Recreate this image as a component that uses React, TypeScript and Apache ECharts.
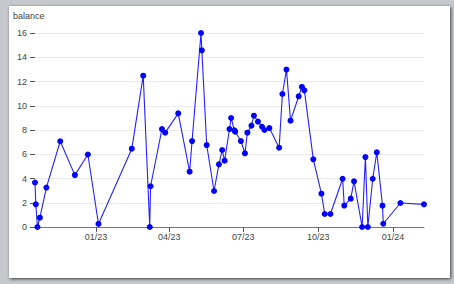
import React, { useEffect, useRef } from "react";
import * as echarts from "echarts";

const dates: string[] = [
  "2022-10-18", "2022-10-19", "2022-10-21", "2022-10-24", "2022-11-01", "2022-11-18",
  "2022-12-06", "2022-12-22", "2023-01-04", "2023-02-14", "2023-02-28", "2023-03-08",
  "2023-03-09", "2023-03-23", "2023-03-27", "2023-04-12", "2023-04-26", "2023-04-29",
  "2023-05-10", "2023-05-11", "2023-05-17", "2023-05-26", "2023-06-01", "2023-06-05",
  "2023-06-08", "2023-06-14", "2023-06-16", "2023-06-20", "2023-06-21", "2023-06-28",
  "2023-07-03", "2023-07-06", "2023-07-11", "2023-07-14", "2023-07-19", "2023-07-24",
  "2023-07-27", "2023-08-02", "2023-08-14", "2023-08-18", "2023-08-23", "2023-08-28",
  "2023-09-07", "2023-09-11", "2023-09-14", "2023-09-25", "2023-10-05", "2023-10-09",
  "2023-10-16", "2023-10-31", "2023-11-02", "2023-11-10", "2023-11-14", "2023-11-24",
  "2023-11-28", "2023-12-01", "2023-12-07", "2023-12-12", "2023-12-19", "2023-12-20",
  "2024-01-10", "2024-02-08",
];

const balances: number[] = [
  3.67, 1.87, 0, 0.77, 3.25, 7.07,
  4.28, 5.98, 0.25, 6.46, 12.48, 0,
  3.36, 8.08, 7.78, 9.37, 4.56, 7.09,
  16.0, 14.57, 6.76, 2.97, 5.17, 6.35,
  5.47, 8.08, 8.99, 7.97, 7.86, 7.09,
  6.08, 7.78, 8.36, 9.18, 8.69, 8.27,
  8.0, 8.16, 6.54, 10.97, 12.98, 8.77,
  10.78, 11.55, 11.27, 5.58, 2.75, 1.07,
  1.07, 3.98, 1.77, 2.34, 3.77, 0,
  5.77, 0, 3.98, 6.16, 1.76, 0.27,
  1.98, 1.87,
];

const tickDates: string[] = ["2023-01-01", "2023-04-01", "2023-07-01", "2023-10-01", "2024-01-01"];

const yTicks = { min: 0, max: 16, interval: 2 };

function parseLocal(s: string): number {
  const [y, m, d] = s.split("-").map(Number);
  return new Date(y, m - 1, d).getTime();
}

const FONT = "'Liberation Sans', Arial, sans-serif";

export default function App() {
  const ref = useRef<HTMLDivElement>(null);

  useEffect(() => {
    if (!ref.current) return;
    const chart = echarts.init(ref.current, undefined, { renderer: "svg" });
    const xs = dates.map(parseLocal);
    const seriesData = xs.map((x, i) => [x, balances[i]]);
    const tickValues = tickDates.map(parseLocal);
    chart.setOption({
      animation: false,
      title: {
        text: "balance",
        left: 4,
        top: 5,
        padding: 0,
        textStyle: { fontFamily: FONT, fontSize: 9, fontWeight: "normal", color: "#444" },
      },
      grid: { left: 26, right: 26, top: 27, bottom: 51, containLabel: false },
      xAxis: {
        type: "value",
        min: xs[0],
        max: xs[xs.length - 1],
        axisLine: { show: true, onZero: false, lineStyle: { color: "#777", width: 1 } },
        axisTick: { show: true, length: 5, lineStyle: { color: "#555" }, customValues: tickValues },
        axisLabel: {
          customValues: tickValues,
          margin: 5,
          fontFamily: FONT,
          fontSize: 9,
          color: "#444",
          formatter: (v: number) => {
            const dt = new Date(v);
            const mm = String(dt.getMonth() + 1).padStart(2, "0");
            const yy = String(dt.getFullYear() % 100).padStart(2, "0");
            return mm + "/" + yy;
          },
        },
        splitLine: { show: false },
      },
      yAxis: {
        type: "value",
        min: yTicks.min,
        max: yTicks.max,
        interval: yTicks.interval,
        axisLine: { show: false },
        axisTick: { show: true, length: 5, lineStyle: { color: "#555" } },
        axisLabel: { margin: 8, fontFamily: FONT, fontSize: 9, color: "#444" },
        splitLine: { show: true, lineStyle: { color: "#ebebeb", width: 1 } },
      },
      series: [
        {
          type: "line",
          data: seriesData,
          symbol: "circle",
          symbolSize: 6,
          showSymbol: true,
          itemStyle: { color: "#0000ff" },
          lineStyle: { color: "#2222ff", width: 1.1 },
        },
      ],
    });
    return () => chart.dispose();
  }, []);

  return (
    <div style={{ position: "fixed", left: 0, top: 0, right: 0, bottom: 0, background: "#c5c9ce" }}>
      <div
        style={{
          position: "absolute",
          left: 9,
          top: 6,
          width: 441,
          height: 272,
          background: "#ffffff",
          boxShadow: "1px 1px 3px rgba(0,0,0,0.7)",
        }}
      >
        <div ref={ref} style={{ width: 441, height: 272 }} />
      </div>
    </div>
  );
}
